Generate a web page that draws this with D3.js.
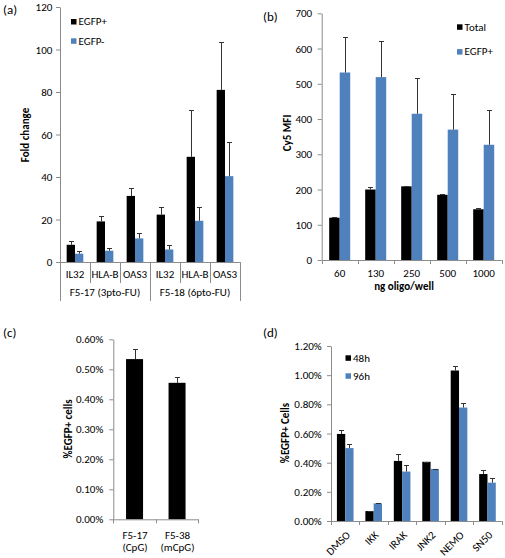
<!DOCTYPE html>
<html>
<head>
<meta charset="utf-8">
<script src="https://cdn.jsdelivr.net/npm/d3@7"></script>
<style>
  html, body { margin: 0; padding: 0; background: #fff; }
  svg { display: block; }
  text { font-family: Carlito, Lato, "Noto Sans", sans-serif; fill: #000; }
</style>
</head>
<body>
<svg id="chart" width="505" height="558"></svg>
<script>
// ---------- DATA ----------
// Panel (a)
const aCategories = ["IL32", "HLA-B", "OAS3", "IL32", "HLA-B", "OAS3"];
const aGroups = ["F5-17 (3pto-FU)", "F5-18 (6pto-FU)"];
const aEGFPpos = [8.1, 19.1, 31.1, 22.3, 49.5, 81.0];
const aEGFPposErr = [1.6, 2.5, 3.5, 3.6, 22.2, 22.5];
const aEGFPneg = [3.9, 5.3, 11.1, 5.9, 19.4, 40.4];
const aEGFPnegErr = [1.3, 1.4, 2.6, 2.0, 6.6, 16.2];
const aTicks = [0, 20, 40, 60, 80, 100, 120];

// Panel (b)
const bCategories = ["60", "130", "250", "500", "1000"];
const bTotal = [120, 200, 209, 185, 144];
const bTotalErr = [3, 8, 2, 3, 4];
const bEGFPpos = [532, 519, 415, 370, 327];
const bEGFPposErr = [101, 101, 101, 101, 100];
const bTicks = [0, 100, 200, 300, 400, 500, 600, 700];

// Panel (c)
const cCategories = [["F5-17", "(CpG)"], ["F5-38", "(mCpG)"]];
const cValues = [0.00534, 0.00455];
const cErr = [0.00033, 0.00020];
const cTicks = [0, 0.001, 0.002, 0.003, 0.004, 0.005, 0.006];

// Panel (d)
const dCategories = ["DMSO", "IKK", "IRAK", "JNK2", "NEMO", "SN50"];
const d48h = [0.00597, 0.00068, 0.00412, 0.00406, 0.01032, 0.00322];
const d48hErr = [0.00025, 0.00002, 0.00045, 0.00002, 0.00033, 0.00026];
const d96h = [0.00500, 0.00121, 0.00339, 0.00357, 0.00778, 0.00263];
const d96hErr = [0.00026, 0.00002, 0.00046, 0.00002, 0.00034, 0.00030];
const dTicks = [0, 0.002, 0.004, 0.006, 0.008, 0.010, 0.012];

// ---------- STYLE ----------
const BLACK = "#000000";
const BLUE = "#4F81BD";
const AXIS = "#8c8c8c";
const ERR = "#333333";
const FS = 11;
const FONT = "Carlito, Lato, 'Noto Sans', sans-serif";

const svg = d3.select("#chart");

function yAxis(g, scale, x, ticks, fmt, pad) {
  const ax = d3.axisLeft(scale).tickValues(ticks).tickFormat(fmt)
    .tickSize(4).tickSizeOuter(0).tickPadding(pad);
  const gg = g.append("g").attr("transform", `translate(${x},0)`).call(ax);
  gg.attr("font-family", null).attr("font-size", null);
  gg.select(".domain").attr("stroke", AXIS);
  gg.selectAll(".tick line").attr("stroke", AXIS);
  gg.selectAll(".tick text").attr("font-size", FS).attr("fill", "#000")
    .style("font-family", FONT);
  return gg;
}

function bars(g, xs, ys, cats, vals, errs, offset, width, color) {
  const bw = xs.bandwidth();
  cats.forEach((c, i) => {
    const cx = xs.domain()[i];
    const x0 = xs(cx) + bw / 2 + offset;
    const y0 = ys(vals[i]);
    g.append("rect").attr("x", x0).attr("y", y0)
      .attr("width", width).attr("height", ys(0) - y0).attr("fill", color);
    const ex = Math.round(x0 + width / 2) + 0.5;
    const yt = Math.round(ys(vals[i] + errs[i])) + 0.5;
    g.append("line").attr("x1", ex).attr("x2", ex).attr("y1", y0).attr("y2", yt)
      .attr("stroke", ERR).attr("stroke-width", 1);
    g.append("line").attr("x1", ex - 2.5).attr("x2", ex + 2.5).attr("y1", yt).attr("y2", yt)
      .attr("stroke", ERR).attr("stroke-width", 1);
  });
}

function xDomainLine(g, xs, y, tickLen, boundaries) {
  const r = xs.range();
  g.append("line").attr("x1", r[0]).attr("x2", r[1]).attr("y1", y + 0.5).attr("y2", y + 0.5)
    .attr("stroke", AXIS);
  boundaries.forEach(b => {
    const x = Math.round(b) + 0.5;
    g.append("line").attr("x1", x).attr("x2", x).attr("y1", y).attr("y2", y + tickLen)
      .attr("stroke", AXIS);
  });
}

function legend(g, x, y, label, color) {
  g.append("rect").attr("x", x).attr("y", y - 2.5).attr("width", 5.5).attr("height", 5.5).attr("fill", color);
  g.append("text").attr("x", x + 7.5).attr("y", y).attr("dy", "0.35em")
    .attr("font-size", FS).text(label);
}

function panelLabel(x, y, t) {
  svg.append("text").attr("x", x).attr("y", y).attr("dy", "0.35em")
    .attr("font-size", 13).text(t);
}

function yTitle(x, y, t) {
  svg.append("text").attr("transform", `translate(${x},${y}) rotate(-90)`)
    .attr("text-anchor", "middle").attr("dy", "0.35em")
    .attr("font-size", FS).attr("font-weight", "bold").text(t);
}

// ---------- PANEL (a) ----------
{
  const g = svg.append("g");
  const xs = d3.scaleBand().domain(d3.range(aCategories.length)).range([60, 240]).padding(0);
  const ys = d3.scaleLinear().domain([0, 120]).range([262, 7]);
  const bw = xs.bandwidth();
  const w = bw * 0.278;
  bars(g, xs, ys, aCategories, aEGFPpos, aEGFPposErr, -w, w, BLACK);
  bars(g, xs, ys, aCategories, aEGFPneg, aEGFPnegErr, 0, w, BLUE);
  yAxis(g, ys, 60, aTicks, d3.format("d"), 3.7);
  // category axis
  g.append("line").attr("x1", 60).attr("x2", 240).attr("y1", 262.5).attr("y2", 262.5).attr("stroke", AXIS);
  d3.range(aCategories.length + 1).forEach(i => {
    const x = Math.round(60 + i * bw) + 0.5;
    const isGroup = i % 3 === 0;
    g.append("line").attr("x1", x).attr("x2", x).attr("y1", 262).attr("y2", isGroup ? 301 : 283)
      .attr("stroke", AXIS);
  });
  aCategories.forEach((c, i) => {
    g.append("text").attr("x", xs(i) + bw / 2).attr("y", 274).attr("dy", "0.35em")
      .attr("text-anchor", "middle").attr("font-size", FS).text(c);
  });
  aGroups.forEach((c, i) => {
    g.append("text").attr("x", 60 + (i * 3 + 1.5) * bw).attr("y", 292.5).attr("dy", "0.35em")
      .attr("text-anchor", "middle").attr("font-size", FS).text(c);
  });
  legend(g, 71, 21.5, "EGFP+", BLACK);
  legend(g, 71, 40.8, "EGFP-", BLUE);
  panelLabel(3, 9, "(a)");
  yTitle(25, 135, "Fold change");
}

// ---------- PANEL (b) ----------
{
  const g = svg.append("g");
  const xs = d3.scaleBand().domain(d3.range(bCategories.length)).range([321.7, 501.7]).padding(0);
  const ys = d3.scaleLinear().domain([0, 700]).range([260, 13.3]);
  const bw = xs.bandwidth();
  const w = bw * 0.292;
  bars(g, xs, ys, bCategories, bTotal, bTotalErr, -w, w, BLACK);
  bars(g, xs, ys, bCategories, bEGFPpos, bEGFPposErr, 0, w, BLUE);
  yAxis(g, ys, 321.7, bTicks, d3.format("d"), 5.5);
  xDomainLine(g, xs, 260, 4, d3.range(bCategories.length + 1).map(i => 321.7 + i * bw));
  bCategories.forEach((c, i) => {
    g.append("text").attr("x", xs(i) + bw / 2).attr("y", 273).attr("dy", "0.35em")
      .attr("text-anchor", "middle").attr("font-size", FS).text(c);
  });
  g.append("text").attr("x", 404).attr("y", 286.5).attr("dy", "0.35em")
    .attr("text-anchor", "middle").attr("font-size", FS).attr("font-weight", "bold").text("ng oligo/well");
  legend(g, 457, 26.8, "Total", BLACK);
  legend(g, 457, 51.6, "EGFP+", BLUE);
  panelLabel(263, 16, "(b)");
  yTitle(287, 133, "Cy5 MFI");
}

// ---------- PANEL (c) ----------
{
  const g = svg.append("g");
  const xs = d3.scaleBand().domain(d3.range(cCategories.length)).range([113.3, 198.3]).padding(0);
  const ys = d3.scaleLinear().domain([0, 0.006]).range([519.3, 339.3]);
  const bw = xs.bandwidth();
  const w = bw * 0.4;
  bars(g, xs, ys, cCategories, cValues, cErr, -w / 2, w, BLACK);
  yAxis(g, ys, 113.3, cTicks, d3.format(".2%"), 6);
  xDomainLine(g, xs, 519.3, 4, d3.range(cCategories.length + 1).map(i => 113.3 + i * bw));
  cCategories.forEach((c, i) => {
    c.forEach((line, j) => {
      g.append("text").attr("x", xs(i) + bw / 2 + 0.5).attr("y", 535 + j * 12).attr("dy", "0.35em")
        .attr("text-anchor", "middle").attr("font-size", FS).text(line);
    });
  });
  panelLabel(3, 332, "(c)");
  yTitle(68, 429, "%EGFP+ cells");
}

// ---------- PANEL (d) ----------
{
  const g = svg.append("g");
  const xs = d3.scaleBand().domain(d3.range(dCategories.length)).range([331, 501.7]).padding(0);
  const ys = d3.scaleLinear().domain([0, 0.012]).range([521, 346]);
  const bw = xs.bandwidth();
  const w = bw * 0.292;
  bars(g, xs, ys, dCategories, d48h, d48hErr, -w, w, BLACK);
  bars(g, xs, ys, dCategories, d96h, d96hErr, 0, w, BLUE);
  yAxis(g, ys, 331, dTicks, d3.format(".2%"), 5.3);
  xDomainLine(g, xs, 521, 4, d3.range(dCategories.length + 1).map(i => 331 + i * bw));
  dCategories.forEach((c, i) => {
    const cx = xs(i) + bw / 2 + 3;
    g.append("text").attr("transform", `translate(${cx},${533}) rotate(-45)`)
      .attr("text-anchor", "end").attr("dy", "0.35em").attr("font-size", FS).text(c);
  });
  legend(g, 345.5, 357.8, "48h", BLACK);
  legend(g, 345.5, 375.8, "96h", BLUE);
  panelLabel(263, 332, "(d)");
  yTitle(285.5, 433, "%EGFP+ Cells");
}
</script>
</body>
</html>
